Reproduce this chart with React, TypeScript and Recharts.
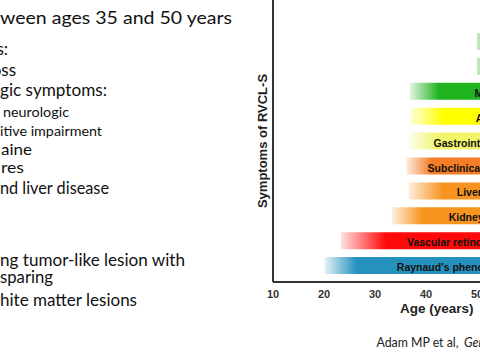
import React from 'react';
import { BarChart, Bar, XAxis, YAxis, Cell, LabelList, Label } from 'recharts';

// ---- chart data (top row first) ----
const categories = [
  'Stroke',
  'Cognitive impairment',
  'Migraine',
  'Anemia',
  'Gastrointestinal bleeding',
  'Subclinical hypothyroidism',
  'Liver disease',
  'Kidney disease',
  'Vascular retinopathy',
  "Raynaud's phenomenon",
];
const onsetAges = [50, 50, 36.8, 36.8, 36.6, 36.2, 36.6, 33.3, 23.3, 20.1];
const endAges = [74, 74, 70.7, 70.1, 71.1, 71.3, 68.5, 70.6, 69.5, 72.3];
const xTicks = [10, 20, 30, 40, 50, 60, 70];

// ---- styles ----
const barColors = ['#8fd585', '#8fd585', '#1fb41f', '#ffff00', '#f1f56c', '#f47d25', '#f7931f', '#f7931f', '#ff0a0a', '#2791bd'];
const fadeEnds = [0.15, 0.15, 0.17, 0.2, 0.17, 0.14, 0.21, 0.16, 0.19, 0.12];
const fadeStartOpacity = [0.55, 0.55, 0.12, 0.12, 0.12, 0.15, 0.15, 0.15, 0.12, 0.12];
const labelFont = 'Liberation Sans, Arial, sans-serif';

// ---- slide text (left part of the slide is cut off by the frame) ----
const slideLines = [
  'ween ages 35 and 50 years',
  'Symptoms:',
  'Vision loss',
  'gic symptoms:',
  'neurologic',
  'itive impairment',
  'aine',
  'res',
  'nd liver disease',
  'ng tumor-like lesion with',
  'sparing',
  'hite matter lesions',
];
// anchor: 'start' uses x and textLength; 'end' right-aligns at x
const slideLayout = [
  { x: 0, y: 24, size: 17, w: 232, anchor: 'start' },
  { x: 8, y: 55, size: 17, w: 0, anchor: 'end' },
  { x: 16, y: 76, size: 17, w: 0, anchor: 'end' },
  { x: 0, y: 96, size: 17, w: 107, anchor: 'start' },
  { x: 3, y: 117, size: 14, w: 66, anchor: 'start' },
  { x: 0, y: 136, size: 14, w: 102, anchor: 'start' },
  { x: 1, y: 155, size: 15, w: 31, anchor: 'start' },
  { x: 1, y: 173, size: 15, w: 23, anchor: 'start' },
  { x: 0, y: 194, size: 17, w: 109, anchor: 'start' },
  { x: 0, y: 266, size: 17, w: 185, anchor: 'start' },
  { x: 0, y: 283, size: 17, w: 53, anchor: 'start' },
  { x: 0, y: 306, size: 17, w: 137, anchor: 'start' },
];

const data = categories.map((name, i) => ({ name, range: [onsetAges[i], endAges[i]] }));

const renderBarLabel = (props: any) => {
  const vb = props.viewBox && typeof props.viewBox.x === 'number' ? props.viewBox : props;
  const { x, y, width, height } = vb;
  return (
    <text
      x={x + width / 2}
      y={y + height / 2}
      dy={5.5}
      textAnchor="middle"
      fill="#111"
      fontSize={10.5}
      fontWeight="bold"
      fontFamily={labelFont}
    >
      {props.value}
    </text>
  );
};

export default function App() {
  return (
    <div
      style={{
        position: 'fixed',
        left: 0,
        top: 0,
        width: 480,
        height: 360,
        overflow: 'hidden',
        background: '#ffffff',
      }}
    >
      <svg width={260} height={360} style={{ position: 'absolute', left: 0, top: 0 }}>
        {slideLines.map((t, i) => {
          const l = slideLayout[i];
          return l.anchor === 'start' ? (
            <text
              key={i}
              x={l.x}
              y={l.y}
              fontSize={l.size}
              textLength={l.w}
              lengthAdjust="spacingAndGlyphs"
              fontFamily="Lato, 'Open Sans', sans-serif"
              fill="#111"
            >
              {t}
            </text>
          ) : (
            <text
              key={i}
              x={l.x}
              y={l.y}
              fontSize={l.size}
              textAnchor="end"
              fontFamily="Lato, 'Open Sans', sans-serif"
              fill="#111"
            >
              {t}
            </text>
          );
        })}
      </svg>
      <svg width={480} height={360} style={{ position: 'absolute', left: 0, top: 0 }}>
        <text x={376.5} y={347} fontSize={12.5} textLength={82} lengthAdjust="spacingAndGlyphs" fontFamily="Lato, sans-serif" fill="#222">
          Adam MP et al,
        </text>
        <text x={464} y={347} fontSize={12.5} fontStyle="italic" fontFamily="Lato, sans-serif" fill="#222">
          GeneReviews
        </text>
      </svg>
      <div style={{ position: 'absolute', left: 251, top: 0 }}>
        <BarChart
          width={22 + 65 * 5.1}
          height={330}
          data={data}
          layout="vertical"
          margin={{ top: 0, right: 0, bottom: 0, left: 0 }}
          barCategoryGap={0}
        >
          <defs>
            {barColors.map((c, i) => (
              <linearGradient key={i} id={`fade${i}`} x1="0" y1="0" x2="1" y2="0">
                <stop offset="0" stopColor={c} stopOpacity={fadeStartOpacity[i]} />
                <stop offset={fadeEnds[i]} stopColor={c} stopOpacity={1} />
                <stop offset="1" stopColor={c} stopOpacity={1} />
              </linearGradient>
            ))}
          </defs>
          <XAxis
            type="number"
            domain={[10, 75]}
            ticks={xTicks}
            tickLine={false}
            axisLine={{ stroke: '#333', strokeWidth: 2 }}
            tick={{ fill: '#333', fontSize: 11, fontWeight: 'bold', fontFamily: labelFont }}
            height={48}
          >
            <Label
              value="Age (years)"
              position="insideBottom"
              offset={17}
              dx={-2}
              style={{ fill: '#222', fontSize: 13.5, fontWeight: 'bold', fontFamily: labelFont }}
            />
          </XAxis>
          <YAxis
            type="category"
            dataKey="name"
            width={22}
            tick={false}
            tickLine={false}
            axisLine={{ stroke: '#333', strokeWidth: 2 }}
            padding={{ top: 29, bottom: 4 }}
          >
            <Label
              value="Symptoms of RVCL-S"
              angle={-90}
              position="center"
              style={{ fill: '#222', fontSize: 13, fontWeight: 'bold', fontFamily: labelFont }}
            />
          </YAxis>
          <Bar dataKey="range" barSize={17} isAnimationActive={false}>
            {data.map((d, i) => (
              <Cell key={d.name} fill={`url(#fade${i})`} />
            ))}
            <LabelList dataKey="name" content={renderBarLabel} />
          </Bar>
        </BarChart>
      </div>
    </div>
  );
}
